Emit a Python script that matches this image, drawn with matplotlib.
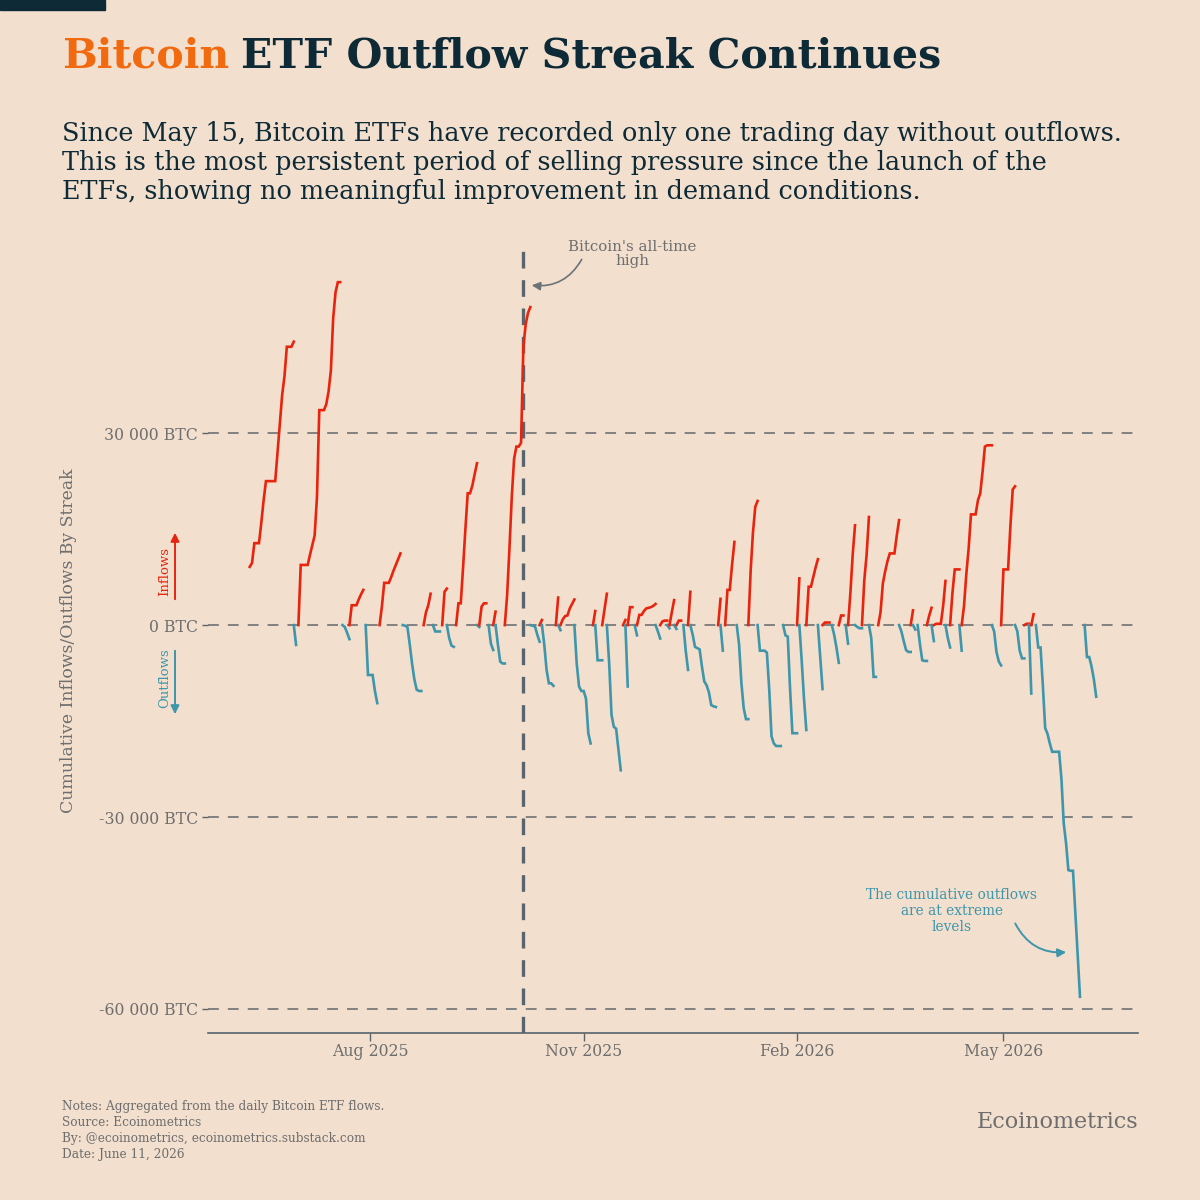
import matplotlib
matplotlib.use("Agg")
import matplotlib.pyplot as plt
import matplotlib.dates as mdates
from matplotlib.patches import Rectangle, FancyArrowPatch
import pandas as pd

# ---------------- data ----------------
base_date = "2025-08-01"          # day offsets below are relative to this date
ath_date = "2025-10-06"           # Bitcoin's all-time high

# first calendar day (offset from base_date) of each streak
streak_start = [
    -52, -32, -30, -11, -8, -1, 5, 15, 24, 28,
    32, 34, 38, 47, 48, 52, 54, 55, 59, 70,
    74, 75, 81, 82, 83, 89, 97, 98, 101, 103,
    110, 111, 112, 115, 116, 124, 126, 129, 130, 132,
    133, 136, 138, 139, 151, 152, 154, 159, 164, 168,
    179, 185, 186, 189, 194, 196, 200, 203, 206, 207,
    210, 213, 216, 220, 229, 234, 235, 237, 241, 243,
    244, 249, 251, 255, 256, 269, 273, 279, 283, 285,
    286, 288, 309,
]
# cumulative flow of each streak, thousand BTC, one value per calendar day
# (positive = inflow streak, negative = outflow streak)
streak_values = [
    [9.1, 9.7, 12.8, 12.8, 12.8, 16.0, 19.5, 22.5, 22.5, 22.5, 22.5, 22.5, 27.0, 31.5, 36.0, 38.9, 43.5, 43.5, 43.5, 44.3],
    [-3.1],
    [9.4, 9.4, 9.4, 9.4, 11.0, 12.5, 14.0, 20.0, 33.6, 33.6, 33.6, 34.5, 36.5, 39.8, 48.0, 52.0, 53.6, 53.6],
    [-0.3, -1.2, -2.2],
    [3.1, 3.1, 3.1, 4.0, 4.8, 5.5],
    [-7.8, -7.8, -7.8, -10.3, -12.2],
    [2.9, 6.6, 6.6, 6.6, 7.5, 8.5, 9.4, 10.3, 11.2],
    [-0.1, -0.3, -3.0, -6.0, -8.5, -10.1, -10.3, -10.3],
    [2.0, 3.1, 4.9],
    [-1.0, -1.0, -1.0],
    [5.2, 5.7],
    [-2.0, -3.2, -3.4],
    [3.4, 3.4, 9.0, 15.0, 20.6, 20.6, 21.8, 23.6, 25.3],
    [-0.3],
    [2.9, 3.4, 3.4],
    [-2.9, -3.9],
    [2.1],
    [-3.0, -5.7, -6.0, -6.0],
    [4.7, 12.0, 20.0, 26.0, 27.9, 27.9, 28.5, 43.5, 47.0, 48.8, 49.7],
    [-0.1, -0.2, -1.5, -2.6],
    [0.8],
    [-3.0, -7.0, -9.1, -9.1, -9.5],
    [4.3],
    [-0.8],
    [0.9, 1.4, 1.5, 2.6, 3.3, 4.0],
    [-6.0, -9.6, -10.3, -10.3, -11.5, -16.9, -18.5],
    [2.2],
    [-5.5, -5.5, -5.5],
    [2.5, 4.9],
    [-6.0, -14.0, -15.9, -16.2, -19.5, -22.7],
    [0.8],
    [-9.6],
    [2.8, 2.8],
    [-1.6],
    [1.6, 1.6, 2.2, 2.6, 2.7, 2.8, 3.0, 3.3],
    [-1.0, -2.1],
    [0.6, 0.7, 0.7],
    [-0.5],
    [2.0, 3.9],
    [-0.6],
    [0.7, 0.7],
    [-4.0, -7.0],
    [5.2],
    [-1.5, -3.4, -3.6, -3.8, -6.5, -8.8, -9.4, -10.5, -12.5, -12.7, -12.8],
    [4.1],
    [-4.0],
    [5.5, 5.5, 9.5, 13.0],
    [-3.0, -9.0, -13.0, -14.7, -14.7],
    [8.5, 14.5, 18.5, 19.4],
    [-4.0, -4.0, -4.0, -4.3, -10.0, -17.4, -18.5, -18.9, -18.9, -18.9],
    [-1.6, -1.8, -10.0, -16.9, -16.9, -16.9],
    [7.3],
    [-5.5, -11.5, -16.4],
    [6.0, 6.0, 7.5, 9.0, 10.3],
    [-5.0, -10.0],
    [0.4, 0.4, 0.4],
    [-1.5, -3.5, -5.9],
    [1.5, 1.5],
    [-2.9],
    [5.0, 11.0, 15.6],
    [-0.3, -0.5, -0.5],
    [7.0, 11.0, 16.9],
    [-2.0, -8.1, -8.1],
    [2.0, 6.5, 8.4, 10.0, 11.2, 11.2, 11.2, 14.0, 16.4],
    [-1.0, -2.5, -3.9, -4.2, -4.2],
    [2.3],
    [-0.7],
    [-3.0, -5.5, -5.6, -5.6],
    [1.5, 2.7],
    [-2.5],
    [0.2, 0.2, 0.2, 3.0, 6.9],
    [-2.0, -3.5],
    [5.0, 8.7, 8.7, 8.7],
    [-4.0],
    [3.0, 8.0, 12.0, 17.3, 17.3, 17.3, 19.5, 20.6, 24.0, 27.9, 28.1, 28.1, 28.1],
    [-1.0, -4.2, -5.7, -6.3],
    [8.7, 8.7, 8.7, 15.5, 21.2, 21.7],
    [-1.0, -4.0, -5.2, -5.2],
    [0.2, 0.2],
    [-10.7],
    [1.7],
    [-3.5, -3.5, -9.5, -16.1, -17.0, -18.5, -19.8, -19.8, -19.8, -19.8, -24.0, -31.0, -34.1, -38.3, -38.4, -38.4, -45.0, -51.5, -58.1],
    [-5.0, -5.0, -6.5, -8.5, -11.2],
]

y_ticks = [30000, 0, -30000, -60000]
y_tick_labels = ["30 000 BTC", "0 BTC", "-30 000 BTC", "-60 000 BTC"]
x_ticks = ["2025-08-01", "2025-11-01", "2026-02-01", "2026-05-01"]

# ---------------- style ----------------
BG = "#F2DFCE"
NAVY = "#0E2A36"
ORANGE = "#F26A10"
RED = "#E8240E"
BLUE = "#3F96AB"
GRAY = "#6E6E6E"
FONT = "DejaVu Serif"
plt.rcParams["font.family"] = [FONT]

fig = plt.figure(figsize=(12, 12), dpi=100, facecolor=BG)
ax = fig.add_axes([0.1733, 0.1392, 0.775, 0.6566])
ax.set_facecolor(BG)

base = pd.Timestamp(base_date)
first_start = streak_start[0]
for start, vals in zip(streak_start, streak_values):
    days = list(range(start, start + len(vals)))
    ys = [v * 1000 for v in vals]
    if start != first_start:
        days = [start - 1] + days
        ys = [0.0] + ys
    dates = [base + pd.Timedelta(days=d) for d in days]
    ax.plot(dates, ys, color=RED if vals[0] > 0 else BLUE, lw=1.9,
            solid_joinstyle="miter", zorder=3)

# horizontal reference lines
for yv in y_ticks:
    ax.axhline(yv, color="#7A7A7A", lw=1.3, ls=(0, (6, 5)), zorder=1)

# all-time high line
ax.axvline(pd.Timestamp(ath_date), color="#58656C", lw=2.4, ls=(0, (5, 3.5)), zorder=2)

ax.set_xlim(base + pd.Timedelta(days=-70), base + pd.Timedelta(days=331))
ax.set_ylim(-63750, 59400)

ax.set_yticks(y_ticks)
ax.set_yticklabels(y_tick_labels)
ax.set_xticks([pd.Timestamp(t) for t in x_ticks])
ax.xaxis.set_major_formatter(mdates.DateFormatter("%b %Y"))
ax.tick_params(axis="both", colors="#5E6468", labelcolor=GRAY, labelsize=11.3,
               width=1.0)
ax.tick_params(axis="y", pad=2.5, length=4.5)
ax.tick_params(axis="x", pad=1.5, length=6)
for s in ["top", "right", "left"]:
    ax.spines[s].set_visible(False)
ax.spines["bottom"].set_color("#56646C")
ax.spines["bottom"].set_linewidth(1.2)

# y-axis label
fig.text(0.057, 1 - 641 / 1200, "Cumulative Inflows/Outflows By Streak", rotation=90,
         ha="center", va="center", fontsize=12.4, color=GRAY)

# inflow / outflow arrows
fig.patches.append(FancyArrowPatch((175 / 1200, 1 - 602 / 1200), (175 / 1200, 1 - 530 / 1200),
                                   transform=fig.transFigure, arrowstyle="-|>,head_length=5,head_width=2.5",
                                   color=RED, lw=1.4))
fig.patches.append(FancyArrowPatch((175 / 1200, 1 - 648 / 1200), (175 / 1200, 1 - 717 / 1200),
                                   transform=fig.transFigure, arrowstyle="-|>,head_length=5,head_width=2.5",
                                   color=BLUE, lw=1.4))
fig.text(165 / 1200, 1 - 571 / 1200, "Inflows", rotation=90, ha="center", va="center",
         fontsize=9.5, color=RED)
fig.text(165 / 1200, 1 - 678 / 1200, "Outflows", rotation=90, ha="center", va="center",
         fontsize=9.5, color=BLUE)

# annotations
fig.text(632 / 1200, 1 - 254 / 1200, "Bitcoin's all-time\nhigh", ha="center", va="center",
         fontsize=10.8, color=GRAY, linespacing=1.08)
fig.patches.append(FancyArrowPatch((583 / 1200, 1 - 257 / 1200), (529 / 1200, 1 - 285 / 1200),
                                   transform=fig.transFigure, connectionstyle="arc3,rad=-0.35",
                                   arrowstyle="-|>,head_length=5,head_width=2.5", color="#6A7378", lw=1.2))
fig.text(952 / 1200, 1 - 911 / 1200, "The cumulative outflows\nare at extreme\nlevels", ha="center",
         va="center", fontsize=9.9, color=BLUE, linespacing=1.2)
fig.patches.append(FancyArrowPatch((1014 / 1200, 1 - 921 / 1200), (1069 / 1200, 1 - 952 / 1200),
                                   transform=fig.transFigure, connectionstyle="arc3,rad=0.35",
                                   arrowstyle="-|>,head_length=5,head_width=2.5", color=BLUE, lw=1.4))

# top-left bar
fig.patches.append(Rectangle((0, 1 - 10 / 1200), 105 / 1200, 10 / 1200, transform=fig.transFigure,
                             color=NAVY, zorder=5))

# title
fig.canvas.draw()
renderer = fig.canvas.get_renderer()
t1 = fig.text(62 / 1200, 1 - 56 / 1200, "Bitcoin", fontsize=29.6, fontweight="bold",
              color=ORANGE, ha="left", va="center")
bb = t1.get_window_extent(renderer)
fig.text((bb.x1 + 12) / 1200, 1 - 56 / 1200, "ETF Outflow Streak Continues", fontsize=29.6,
         fontweight="bold", color=NAVY, ha="left", va="center")

subtitle = ("Since May 15, Bitcoin ETFs have recorded only one trading day without outflows.\n"
            "This is the most persistent period of selling pressure since the launch of the\n"
            "ETFs, showing no meaningful improvement in demand conditions.")
fig.text(62 / 1200, 1 - 121 / 1200, subtitle, fontsize=18.4, color=NAVY, ha="left", va="top",
         linespacing=1.2)

# footer
fig.text(62 / 1200, 1 - 1100 / 1200,
         "Notes: Aggregated from the daily Bitcoin ETF flows.\nSource: Ecoinometrics\n"
         "By: @ecoinometrics, ecoinometrics.substack.com\nDate: June 11, 2026",
         fontsize=8.7, color=GRAY, ha="left", va="top", linespacing=1.3)
fig.text(1138 / 1200, 1 - 1122 / 1200, "Ecoinometrics", fontsize=16, color=GRAY,
         ha="right", va="center")

fig.savefig("out.png", dpi=100, facecolor=BG)
